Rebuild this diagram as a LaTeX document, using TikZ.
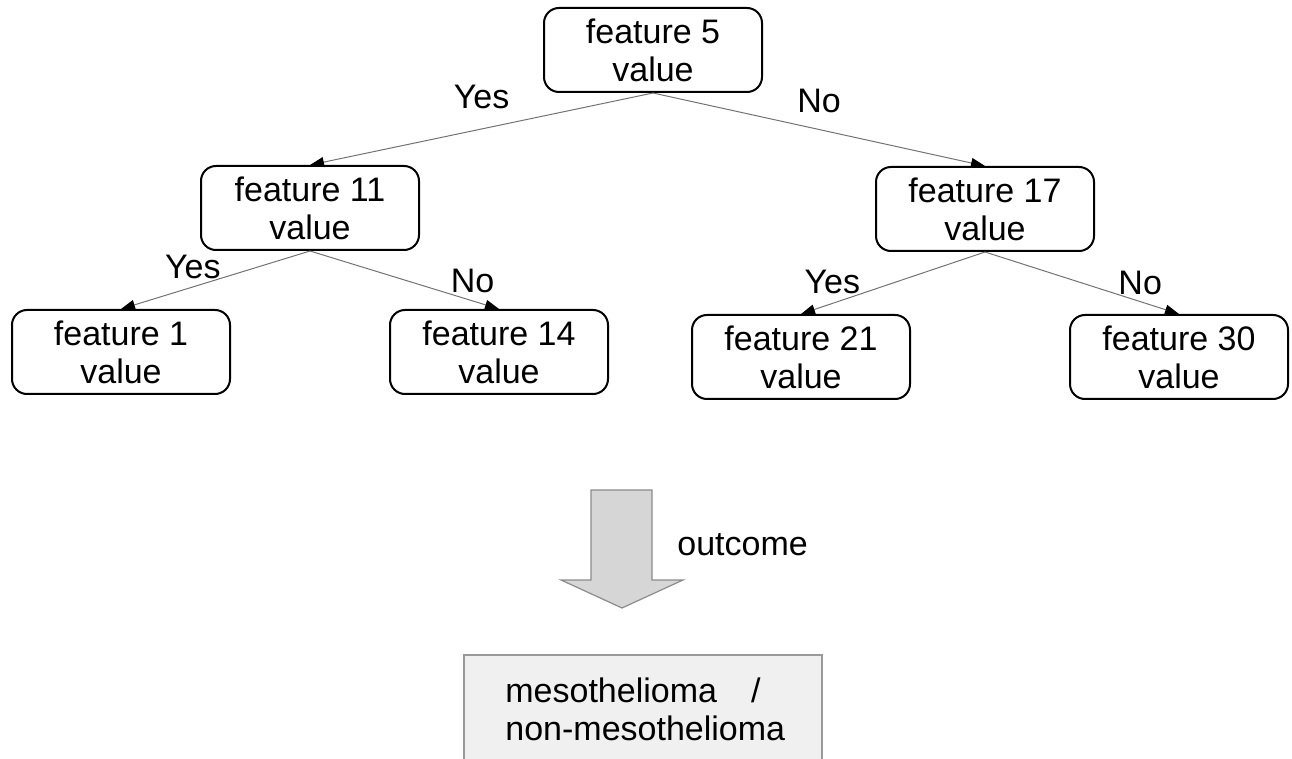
\documentclass[tikz,border=0pt]{standalone}
\usepackage{fontspec}
\setmainfont{Liberation Sans}
\usetikzlibrary{arrows.meta,positioning}

\begin{document}
\begin{tikzpicture}[x=0.5pt, y=-0.5pt,
                    >={Triangle[length=7pt, width=5pt, color=black]},
                    every node/.append style={align=center, font=\fontsize{17}{19}\selectfont},
                    int/.style={draw, line width=1pt, rounded corners=7.5pt,
                                minimum width=109pt, minimum height=42pt, inner sep=0pt},
                    link/.style={->, draw=black!55, line width=0.5pt},
                    outbox/.style={draw=black!40, fill=black!6, line width=0.6pt}]
                   \useasboundingbox (0,0) rectangle (1292,759);
                   \clip (0,0) rectangle (1292,759);

                   \node [int] (S5)  at (653,50)  {feature 5\\value};
                   \node [int] (S11) at (310,208) {feature 11\\value};
                   \node [int] (S17) at (985,209) {feature 17\\value};
                   \node [int] (S1)  at (121,352) {feature 1\\value};
                   \node [int] (S14) at (499,352) {feature 14\\value};
                   \node [int] (S21) at (801,357) {feature 21\\value};
                   \node [int] (S30) at (1179,357) {feature 30\\value};

                   \path (S5.south) edge[link] node[pos=0.5, yshift=16pt] {Yes} (S11.north);
                   \path (S5.south) edge[link] node[pos=0.5, yshift=14.5pt] {No} (S17.north);
                   \path (S11.south) edge[link] node[pos=0.62, yshift=10pt] {Yes} (S1.north);
                   \path (S11.south) edge[link] node[pos=0.86, yshift=9.75pt] {No} (S14.north);
                   \path (S17.south) edge[link] node[pos=0.83, yshift=10.5pt] {Yes} (S21.north);
                   \path (S17.south) edge[link] node[pos=0.80, yshift=9.5pt] {No} (S30.north);

                   % big arrow to the outcome
                   \draw[draw=black!45, fill=black!16, line width=0.6pt]
                        (591,490) -- (652,490) -- (652,580) -- (683,580) -- (622,608)
                        -- (561,580) -- (591,580) -- cycle;
                   \node [anchor=base west, inner sep=0pt] (outcome) at (677,555) {outcome};

                   \draw[outbox] (464,655) rectangle (822,790);
                   \node [anchor=base west, inner sep=0pt, align=left] (meso) at (505,740)
                        {mesothelioma\hspace{17pt}/\\non-mesothelioma};
\end{tikzpicture}
\end{document}
